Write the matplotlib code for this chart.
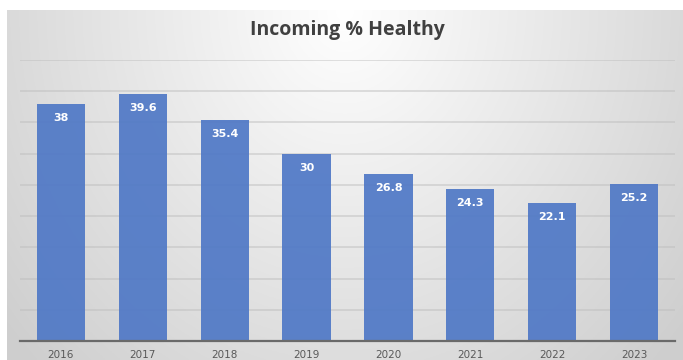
import numpy as np
import matplotlib.pyplot as plt

years = ['2016', '2017', '2018', '2019', '2020', '2021', '2022', '2023']
healthy = [38, 39.6, 35.4, 30, 26.8, 24.3, 22.1, 25.2]

W, H = 683, 360
fig = plt.figure(figsize=(W / 100, H / 100), dpi=100)

# chart area background: light radial gradient, white near the title
bg = fig.add_axes([7 / W, 0, 676 / W, 350 / H])
gx, gy = np.meshgrid(np.linspace(-1, 1, 400), np.linspace(0, 1, 200))
r = np.sqrt((gx / 1.0) ** 2 + (gy / 1.1) ** 2)
shade = 1.0 - 0.19 * np.clip(r, 0, 1.3) / 1.3
bg.imshow(np.dstack([shade] * 3), aspect='auto', extent=[0, 1, 0, 1], origin='upper')
bg.axis('off')

ax = fig.add_axes([20 / W, (H - 341) / H, 655 / W, 281 / H])
ax.set_facecolor('none')
x = np.arange(len(years))
bars = ax.bar(x, healthy, width=0.59, color='#4f78c6', alpha=0.92, zorder=3)
ax.set_xlim(-0.5, len(years) - 0.5)
ax.set_ylim(0, 45)
ax.set_yticks(np.arange(5, 46, 5))
ax.yaxis.grid(True, color='#bdbdbd', linewidth=1.2, zorder=4, alpha=0.55)
ax.tick_params(axis='y', left=False, labelleft=False)
ax.tick_params(axis='x', bottom=False, pad=3, labelsize=7.5, labelcolor='#595959')
ax.set_xticks(x)
ax.set_xticklabels(years)
for side in ['top', 'right', 'left']:
    ax.spines[side].set_visible(False)
ax.spines['bottom'].set_color('#6a6a6a')
ax.spines['bottom'].set_linewidth(1.6)
ax.spines['bottom'].set_zorder(5)

for b, v in zip(bars, healthy):
    ax.annotate(f'{v:g}', (b.get_x() + b.get_width() / 2, v), xytext=(0, -10),
                textcoords='offset points', ha='center', va='center',
                color='white', fontsize=8, fontweight='bold', zorder=6)

fig.text(347 / W, 1 - 30 / H, 'Incoming % Healthy', ha='center', va='center',
         fontsize=14, fontweight='bold', color='#404040', family='Open Sans')

fig.savefig('out.png', dpi=100)
